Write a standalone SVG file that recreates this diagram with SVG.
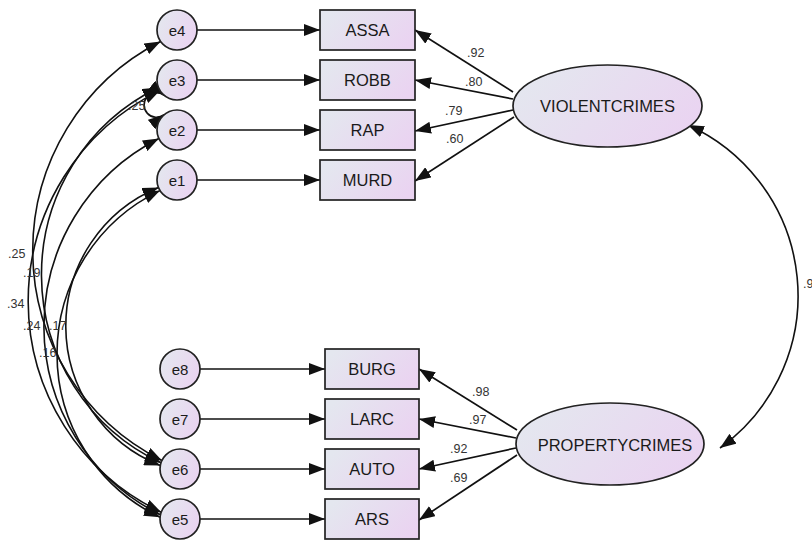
<svg xmlns="http://www.w3.org/2000/svg" width="812" height="540" viewBox="0 0 812 540">
  <style>
    .box { fill: url(#fillGrad); stroke: #222; stroke-width: 1.7; }
    .lbl { font-family: "Liberation Sans", Arial, sans-serif; font-size: 16.5px; fill: #1a1a1a; text-anchor: middle; dominant-baseline: central; }
    .elbl { font-family: "Liberation Sans", Arial, sans-serif; font-size: 15px; fill: #1a1a1a; text-anchor: middle; dominant-baseline: central; }
    .coef { font-family: "Liberation Sans", Arial, sans-serif; font-size: 12.5px; fill: #333; }
    .edge { fill: none; stroke: #111; stroke-width: 1.7; marker-end: url(#arrow); }
    .cov { fill: none; stroke: #111; stroke-width: 1.6; marker-start: url(#arrow); marker-end: url(#arrow); }
  </style>
  <defs>
    <linearGradient id="fillGrad" x1="0" y1="0.3" x2="1" y2="0.7">
      <stop offset="0" stop-color="#e4e7ef"/>
      <stop offset="1" stop-color="#ead3f1"/>
    </linearGradient>
    <marker id="arrow" viewBox="0 0 16 12" refX="16" refY="6" markerWidth="16" markerHeight="12" markerUnits="userSpaceOnUse" orient="auto-start-reverse">
      <path d="M0,0 L16,6 L0,12 z" fill="#111"/>
    </marker>
  </defs>

  <rect width="812" height="540" fill="#fff"/>

  <!-- connectors -->
  <g id="connectors">
    <!-- error terms to indicators -->
    <path class="edge" d="M197,30 H320"/>
    <path class="edge" d="M197,80 H320"/>
    <path class="edge" d="M197,130 H320"/>
    <path class="edge" d="M197,180 H320"/>
    <path class="edge" d="M200,369 H325"/>
    <path class="edge" d="M200,419 H325"/>
    <path class="edge" d="M200,469 H325"/>
    <path class="edge" d="M200,519 H325"/>
    <!-- loadings -->
    <path class="edge" d="M513,92 L415,30"/>
    <path class="edge" d="M513,99 L415,80"/>
    <path class="edge" d="M513,110 L415,131"/>
    <path class="edge" d="M514,117 L415,181"/>
    <path class="edge" d="M517,430 L419,369"/>
    <path class="edge" d="M516,438 L419,419"/>
    <path class="edge" d="M516,448 L419,469"/>
    <path class="edge" d="M517,455 L419,520"/>
    <!-- factor covariance -->
    <path class="cov" d="M688,125 A187.5,187.5 0 0 1 720,448"/>
    <!-- error covariances -->
    <path class="cov" d="M160.6,41.5 A235,235 0 0 0 161.9,460.5"/>
    <path class="cov" d="M158.5,87.5 A208,208 0 0 0 161,462.8"/>
    <path class="cov" d="M160,90.6 A234,234 0 0 0 161.2,512.2"/>
    <path class="cov" d="M158.9,138.5 A210.8,210.8 0 0 0 160.4,514.8"/>
    <path class="cov" d="M158.5,187.5 A150,150 0 0 0 160.3,465.5"/>
    <path class="cov" d="M160,190.6 A181,181 0 0 0 160.1,517.3"/>
    <path class="cov" d="M164.1,95.3 A12.35,12.35 0 1 0 164.1,114.7"/>
  </g>

  <!-- coefficient labels -->
  <g id="coefficients">
    <text class="coef" x="467" y="57">.92</text>
    <text class="coef" x="465" y="86">.80</text>
    <text class="coef" x="445" y="115">.79</text>
    <text class="coef" x="446" y="143">.60</text>
    <text class="coef" x="472" y="396">.98</text>
    <text class="coef" x="469" y="424">.97</text>
    <text class="coef" x="450" y="453">.92</text>
    <text class="coef" x="450" y="482">.69</text>
    <text class="coef" x="803" y="288">.9</text>
    <text class="coef" x="128" y="110">.25</text>
    <text class="coef" x="8" y="258">.25</text>
    <text class="coef" x="23" y="277">.19</text>
    <text class="coef" x="7" y="308">.34</text>
    <text class="coef" x="23" y="330">.24</text>
    <text class="coef" x="49" y="330">.17</text>
    <text class="coef" x="39" y="357">.16</text>
  </g>

  <!-- error terms -->
  <g id="e4"><circle class="box" cx="177" cy="30" r="20"/><text class="elbl" x="177" y="30">e4</text></g>
  <g id="e3"><circle class="box" cx="177" cy="80" r="20"/><text class="elbl" x="177" y="80">e3</text></g>
  <g id="e2"><circle class="box" cx="177" cy="130" r="20"/><text class="elbl" x="177" y="130">e2</text></g>
  <g id="e1"><circle class="box" cx="177" cy="180" r="20"/><text class="elbl" x="177" y="180">e1</text></g>
  <g id="e8"><circle class="box" cx="180" cy="369" r="20"/><text class="elbl" x="180" y="369">e8</text></g>
  <g id="e7"><circle class="box" cx="180" cy="419" r="20"/><text class="elbl" x="180" y="419">e7</text></g>
  <g id="e6"><circle class="box" cx="180" cy="469" r="20"/><text class="elbl" x="180" y="469">e6</text></g>
  <g id="e5"><circle class="box" cx="180" cy="519" r="20"/><text class="elbl" x="180" y="519">e5</text></g>

  <!-- observed indicators -->
  <g id="ASSA"><rect class="box" x="320" y="10" width="95" height="40"/><text class="lbl" x="367.5" y="30">ASSA</text></g>
  <g id="ROBB"><rect class="box" x="320" y="60" width="95" height="40"/><text class="lbl" x="367.5" y="80">ROBB</text></g>
  <g id="RAP"><rect class="box" x="320" y="110" width="95" height="40"/><text class="lbl" x="367.5" y="130">RAP</text></g>
  <g id="MURD"><rect class="box" x="320" y="160" width="95" height="40"/><text class="lbl" x="367.5" y="180">MURD</text></g>
  <g id="BURG"><rect class="box" x="325" y="349" width="94" height="40"/><text class="lbl" x="372" y="369">BURG</text></g>
  <g id="LARC"><rect class="box" x="325" y="399" width="94" height="40"/><text class="lbl" x="372" y="419">LARC</text></g>
  <g id="AUTO"><rect class="box" x="325" y="449" width="94" height="40"/><text class="lbl" x="372" y="469">AUTO</text></g>
  <g id="ARS"><rect class="box" x="325" y="499" width="94" height="40"/><text class="lbl" x="372" y="519">ARS</text></g>

  <!-- latent factors -->
  <g id="VIOLENTCRIMES"><ellipse class="box" cx="607.5" cy="106" rx="94.5" ry="41"/><text class="lbl" x="607.5" y="106">VIOLENTCRIMES</text></g>
  <g id="PROPERTYCRIMES"><ellipse class="box" cx="610" cy="444" rx="94" ry="41"/><text class="lbl" x="615" y="445">PROPERTYCRIMES</text></g>
</svg>
